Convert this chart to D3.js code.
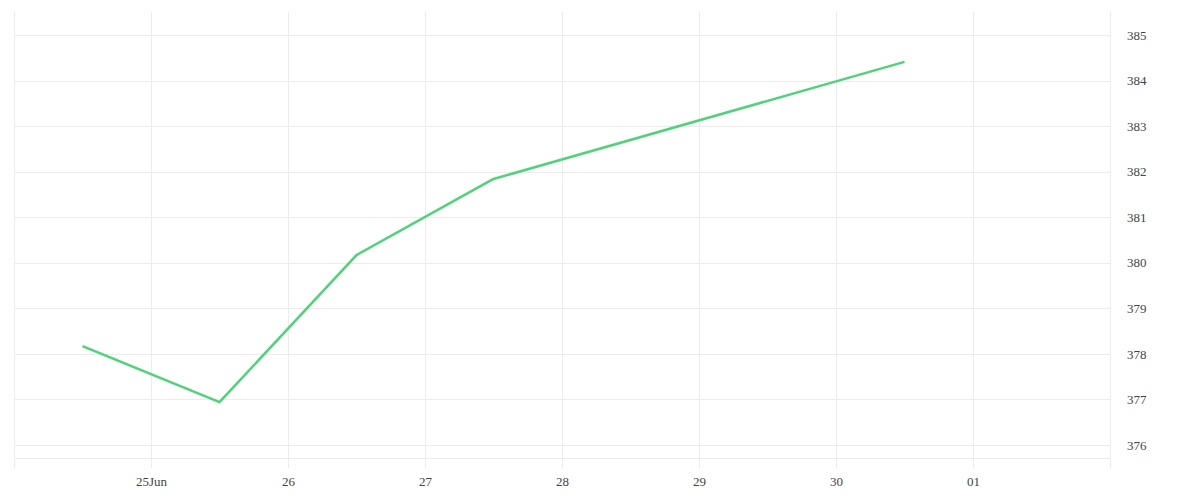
<!DOCTYPE html>
<html><head><meta charset="utf-8">
<script src="https://cdn.jsdelivr.net/npm/d3@7"></script>
<style>body{margin:0;background:#fff}svg{display:block}text{font-family:"Liberation Serif","DejaVu Serif",serif;font-size:13px;fill:#444}</style>
</head><body><svg id="c" width="1200" height="500"></svg>
<script>
const dates = ["2023-06-24T12:00","2023-06-25T12:00","2023-06-26T12:00","2023-06-27T12:00","2023-06-30T12:00"];
const values = [378.17, 376.94, 380.17, 381.84, 384.41];
const yTicks = [376,377,378,379,380,381,382,383,384,385];
const xTickDates = ["2023-06-25","2023-06-26","2023-06-27","2023-06-28","2023-06-29","2023-06-30","2023-07-01"];
const xTickLabels = ["25Jun","26","27","28","29","30","01"];

(function(){
const svg = d3.select("#c");
const parse = d3.timeParse("%Y-%m-%dT%H:%M");
const parseD = d3.timeParse("%Y-%m-%d");
const x = d3.scaleTime().domain([parseD("2023-06-24"), parseD("2023-07-02")]).range([14, 1110]);
const y = d3.scaleLinear().domain([376, 385]).range([445, 35]);
const plotTop = 12, plotBottom = 468, base = 458;
const grid = "#ececec";

const vx = [parseD("2023-06-24"), ...xTickDates.map(parseD), parseD("2023-07-02")];
svg.append("g").selectAll("line").data(vx).join("line")
  .attr("x1", d => Math.round(x(d)) + 0.5).attr("x2", d => Math.round(x(d)) + 0.5)
  .attr("y1", plotTop).attr("y2", plotBottom).attr("stroke", grid);
svg.append("g").selectAll("line").data(yTicks).join("line")
  .attr("x1", x.range()[0]).attr("x2", x.range()[1])
  .attr("y1", d => Math.round(y(d)) + 0.5).attr("y2", d => Math.round(y(d)) + 0.5).attr("stroke", grid);
svg.append("line").attr("x1", x.range()[0]).attr("x2", x.range()[1])
  .attr("y1", base + 0.5).attr("y2", base + 0.5).attr("stroke", grid);

const yAxis = d3.axisRight(y).tickValues(yTicks).tickSize(0).tickPadding(17).tickFormat(d3.format("d"));
const gy = svg.append("g").attr("transform", `translate(${x.range()[1]},0)`).call(yAxis);
gy.select(".domain").remove();

const xAxis = d3.axisBottom(x).tickValues(xTickDates.map(parseD)).tickSize(0).tickPadding(9)
  .tickFormat((d, i) => xTickLabels[i]);
const gx = svg.append("g").attr("transform", `translate(0,${plotBottom})`).call(xAxis);
gx.select(".domain").remove();
svg.selectAll(".tick text").attr("fill", null);
svg.selectAll("g").attr("font-family", null).attr("font-size", null);

const data = dates.map((d, i) => ({t: parse(d), v: values[i]}));
svg.append("path").datum(data)
  .attr("fill", "none").attr("stroke", "#4fd27a").attr("stroke-width", 2.5)
  .attr("stroke-linejoin", "round")
  .attr("d", d3.line().x(d => x(d.t)).y(d => y(d.v)));
})();
</script></body></html>
